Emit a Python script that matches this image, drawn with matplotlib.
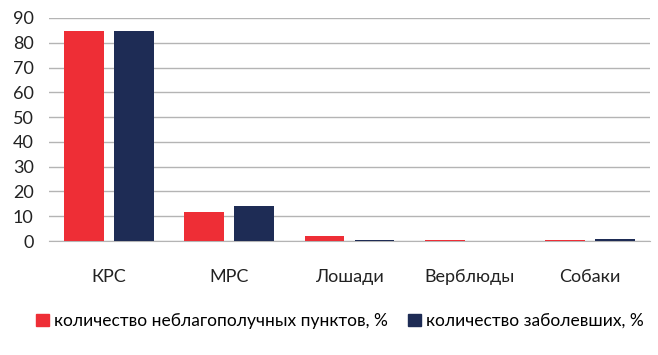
import numpy as np
import matplotlib.pyplot as plt
from matplotlib.patches import Patch

categories = ["КРС", "МРС", "Лошади", "Верблюды", "Собаки"]
points_pct = [84.6, 11.8, 2.0, 0.4, 0.4]
sick_pct = [84.6, 14.0, 0.4, 0.0, 0.8]
series_names = ["количество неблагополучных пунктов, %", "количество заболевших, %"]

red = "#EE2E36"
navy = "#1E2C55"
grid_col = "#B4B4B4"

plt.rcParams["font.family"] = ["Lato", "DejaVu Sans"]

fig = plt.figure(figsize=(6.58, 3.55), dpi=100)
ax = fig.add_axes([49 / 658, 1 - 241 / 355, 601 / 658, 223 / 355])

x = np.arange(len(categories))
w = 0.33
ax.bar(x - 0.208, points_pct, width=w, color=red, zorder=3)
ax.bar(x + 0.208, sick_pct, width=w, color=navy, zorder=3)

ax.set_xlim(-0.5, len(categories) - 0.5)
ax.set_ylim(0, 90)
ax.set_yticks(range(0, 91, 10))
ax.grid(axis="y", color=grid_col, linewidth=1, zorder=0)
for s in ["top", "right", "left"]:
    ax.spines[s].set_visible(False)
ax.spines["bottom"].set_color(grid_col)
ax.tick_params(axis="both", length=0, labelsize=13, colors="#222222")
ax.tick_params(axis="y", pad=11)
ax.set_xticks(x)
ax.set_xticklabels(categories)
ax.tick_params(axis="x", pad=20)

handles = [Patch(color=red), Patch(color=navy)]
fig.legend(handles, series_names, loc="center", bbox_to_anchor=(340 / 658, 1 - 321 / 355),
           ncol=2, frameon=False, fontsize=12.5, handlelength=0.7, handleheight=0.7,
           handletextpad=0.3, columnspacing=1.2)

fig.savefig("out.png", dpi=100)
